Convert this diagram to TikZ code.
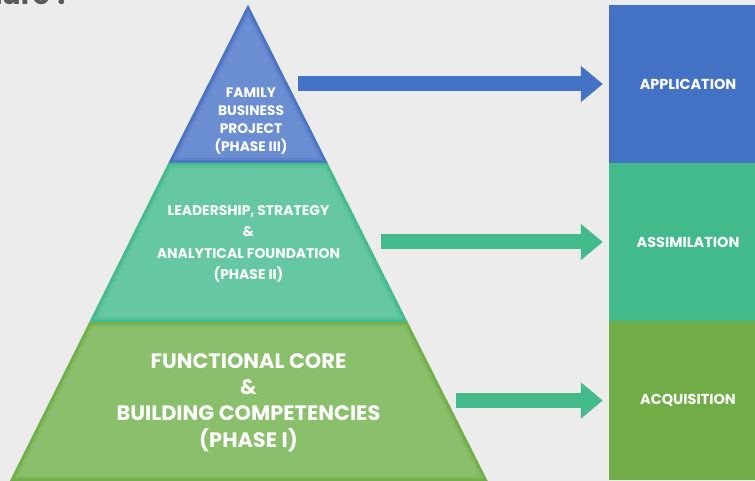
\documentclass[tikz,border=0pt]{standalone}
\usepackage{fontspec}
\setmainfont{Poppins}
\usetikzlibrary{arrows.meta}
\definecolor{bg}{HTML}{EBECEB}
\definecolor{title}{HTML}{5A5A5A}
\definecolor{bluedark}{HTML}{4A73C6}
\definecolor{bluelight}{HTML}{6B8ED2}
\definecolor{tealdark}{HTML}{45BA8C}
\definecolor{teallight}{HTML}{66C8A2}
\definecolor{greendark}{HTML}{72AE4A}
\definecolor{greenlight}{HTML}{8ABF6B}
\definecolor{boxblue}{HTML}{4472C4}
\definecolor{boxteal}{HTML}{43BA8C}
\definecolor{boxgreen}{HTML}{70AD47}
\tikzset{
  colbox/.style={rectangle, inner sep=0pt, minimum width=146bp, minimum height=158bp},
  boxlabel/.style={text=white, font=\fontsize{14.5}{16}\selectfont\bfseries},
  layerlabel/.style={text=white, align=center, inner sep=0pt},
  bigarrow/.style={line width=15bp, -{Triangle[length=22bp,width=35bp]}, shorten >=6bp},
}
\newcommand{\layer}[3]{%
  \begin{scope}
    \clip #1;
    \fill[#3] #1;
    \draw[#2, line width=10bp, opacity=0.35] #1;
    \draw[#2, line width=5bp] #1;
  \end{scope}}
\begin{document}
\begin{tikzpicture}[x=1bp, y=-1bp]
\useasboundingbox (0,0) rectangle (755,481);
\clip (0,0) rectangle (755,481);
\fill[bg] (0,0) rectangle (755,481);
\node[anchor=base east, text=title, font=\fontsize{28}{30}\selectfont\bfseries, inner sep=0pt] (ttl) at (71,4.5) {ture ?};

% pyramid layers
\layer{(248,5) -- (327.5,163) -- (168.5,163) -- cycle}{bluedark}{bluelight}
\layer{(168.5,163) -- (327.5,163) -- (407.5,322) -- (89.5,322) -- cycle}{tealdark}{teallight}
\layer{(89.5,322) -- (407.5,322) -- (487.5,481) -- (10,481) -- cycle}{greendark}{greenlight}

\node[layerlabel, font=\fontsize{13.8}{18.2}\selectfont\bfseries] (l3) at (251,121) {FAMILY\\BUSINESS\\PROJECT\\(PHASE III)};
\node[layerlabel, font=\fontsize{14}{21.5}\selectfont\bfseries] (l2) at (248.5,244) {LEADERSHIP, STRATEGY\\\&\\ANALYTICAL FOUNDATION\\(PHASE II)};
\node[layerlabel, font=\fontsize{21}{26.3}\selectfont\bfseries] (l1) at (248.5,402.5) {FUNCTIONAL CORE\\\&\\BUILDING COMPETENCIES\\(PHASE I)};

% right column
\node[colbox, fill=boxblue] (app) at (682,84) {};
\node[colbox, fill=boxteal] (ass) at (682,242) {};
\node[colbox, fill=boxgreen, minimum height=159bp] (acq) at (682,400.5) {};
\node[boxlabel] (tapp) at (688,84.5) {APPLICATION};
\node[boxlabel] (tass) at (688,242.5) {ASSIMILATION};
\node[boxlabel] (tacq) at (688,400.5) {ACQUISITION};

% arrows
\coordinate (a1) at (298,84);
\coordinate (a2) at (381,242);
\coordinate (a3) at (456,400.5);
\draw[bigarrow, boxblue] (a1) -- (a1 -| app.west);
\draw[bigarrow, boxteal] (a2) -- (a2 -| ass.west);
\draw[bigarrow, boxteal] (a3) -- (a3 -| acq.west);
\end{tikzpicture}
\end{document}
